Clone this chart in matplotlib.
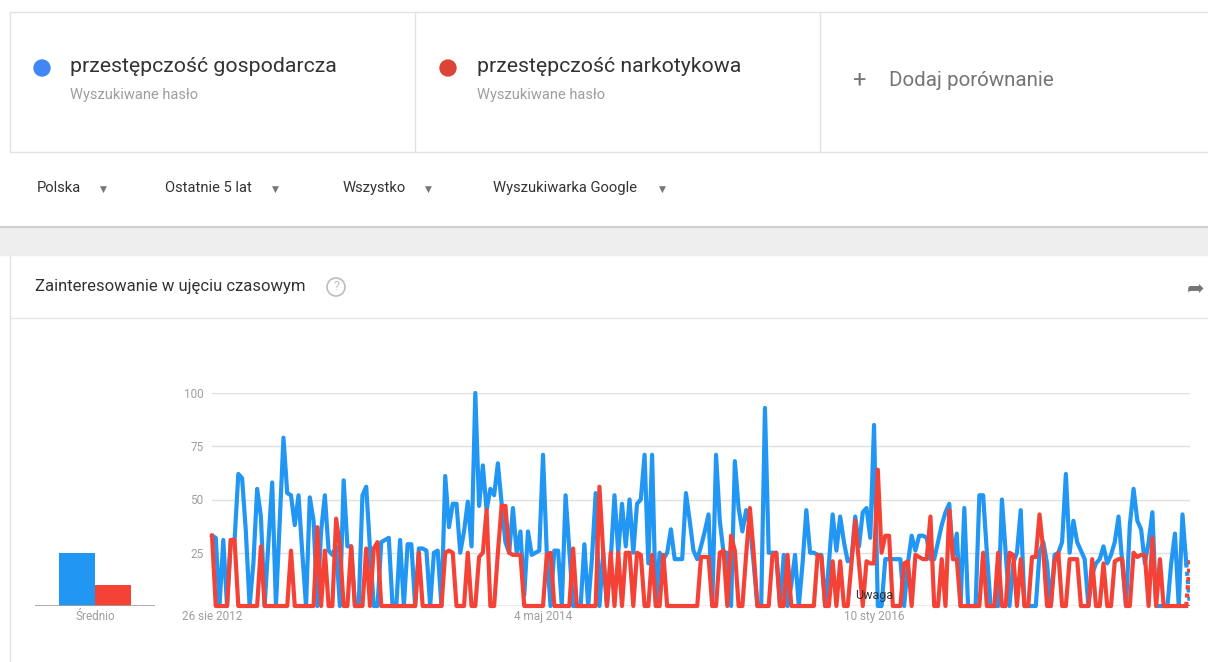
import matplotlib
matplotlib.use("Agg")
import matplotlib.pyplot as plt
import pandas as pd
from matplotlib.patches import Rectangle, Circle

# weekly interest, 26 sie 2012 .. 13 sie 2017 (261 weeks)
gospodarcza = [
    33, 32, 0, 31, 0, 31, 31, 62, 60, 35,
    0, 20, 55, 42, 0, 30, 58, 0, 40, 79,
    53, 52, 38, 52, 25, 0, 51, 40, 0, 35,
    52, 26, 24, 28, 0, 59, 28, 28, 0, 0,
    52, 56, 27, 0, 0, 30, 31, 32, 0, 0,
    31, 0, 29, 29, 0, 27, 27, 26, 0, 25,
    26, 0, 61, 37, 48, 48, 25, 35, 49, 28,
    100, 47, 66, 45, 55, 52, 67, 48, 30, 25,
    46, 25, 35, 5, 35, 24, 25, 26, 71, 25,
    0, 26, 26, 0, 52, 26, 0, 0, 0, 29,
    0, 22, 53, 0, 25, 0, 22, 52, 25, 48,
    28, 50, 25, 48, 50, 71, 20, 71, 0, 25,
    22, 25, 36, 22, 22, 22, 53, 40, 26, 22,
    28, 35, 43, 0, 71, 40, 25, 25, 0, 68,
    46, 35, 45, 38, 20, 0, 0, 93, 25, 25,
    25, 0, 24, 0, 10, 24, 0, 20, 45, 25,
    25, 24, 24, 0, 20, 43, 26, 42, 30, 21,
    22, 42, 28, 44, 46, 32, 85, 0, 0, 22,
    22, 22, 22, 22, 0, 20, 33, 26, 33, 33,
    32, 22, 22, 30, 38, 44, 48, 22, 34, 0,
    46, 0, 0, 0, 52, 52, 25, 0, 0, 0,
    50, 25, 0, 20, 25, 45, 0, 0, 0, 0,
    25, 30, 20, 0, 24, 25, 30, 62, 25, 40,
    30, 26, 22, 0, 15, 20, 22, 28, 20, 24,
    30, 42, 20, 0, 38, 55, 40, 36, 20, 30,
    44, 0, 0, 0, 0, 20, 34, 0, 43, 20, 0,
]
narkotykowa = [
    33, 0, 0, 0, 0, 31, 31, 0, 0, 0,
    0, 0, 0, 28, 0, 0, 0, 0, 0, 0,
    0, 26, 0, 0, 0, 0, 0, 0, 37, 0,
    26, 0, 0, 41, 28, 0, 0, 28, 0, 0,
    0, 27, 0, 27, 30, 0, 0, 0, 0, 0,
    0, 0, 0, 0, 0, 25, 0, 0, 0, 0,
    0, 0, 25, 26, 25, 0, 0, 0, 25, 0,
    0, 23, 25, 45, 0, 0, 25, 47, 47, 25,
    24, 24, 24, 0, 0, 0, 0, 0, 0, 24,
    25, 0, 0, 0, 0, 0, 27, 0, 0, 0,
    0, 0, 0, 56, 25, 0, 25, 0, 25, 0,
    25, 25, 0, 25, 24, 0, 0, 24, 0, 0,
    24, 0, 0, 0, 0, 0, 0, 0, 0, 0,
    23, 23, 23, 0, 0, 25, 26, 0, 33, 26,
    0, 0, 24, 46, 25, 0, 0, 0, 0, 24,
    25, 0, 0, 24, 0, 0, 0, 0, 0, 0,
    0, 24, 23, 0, 0, 21, 0, 21, 0, 0,
    20, 40, 20, 0, 21, 20, 20, 64, 25, 33,
    33, 0, 0, 0, 20, 21, 0, 24, 23, 22,
    22, 42, 0, 0, 22, 0, 45, 22, 22, 0,
    0, 0, 0, 0, 0, 25, 0, 0, 0, 25,
    0, 0, 25, 24, 0, 22, 0, 0, 23, 23,
    43, 26, 0, 0, 21, 25, 0, 0, 22, 22,
    22, 0, 0, 0, 22, 0, 0, 20, 0, 0,
    21, 22, 22, 0, 0, 25, 23, 24, 24, 0,
    32, 0, 22, 0, 0, 0, 0, 0, 0, 0, 22,
]
srednio = [25, 10]
terms = ["przestępczość gospodarcza", "przestępczość narkotykowa"]
filters = ["Polska", "Ostatnie 5 lat", "Wszystko", "Wyszukiwarka Google"]
tick_dates = ["2012-08-26", "2014-05-04", "2016-01-10"]
tick_labels = ["26 sie 2012", "4 maj 2014", "10 sty 2016"]
y_ticks = [25, 50, 75, 100]

BLUE = "#2196f3"
RED = "#f44336"
W, H = 1208, 662
FONT = ["Roboto", "DejaVu Sans"]

plt.rcParams["font.family"] = FONT


def box(x0, y0, x1, y1):
    # pixel box (top-left origin) -> figure fraction rect
    return [x0 / W, 1 - y1 / H, (x1 - x0) / W, (y1 - y0) / H]


fig = plt.figure(figsize=(W / 100, H / 100), dpi=100)

# page background in pixel coordinates
bg = fig.add_axes([0, 0, 1, 1])
bg.set_xlim(0, W)
bg.set_ylim(H, 0)
bg.axis("off")
bg.add_patch(Rectangle((0, 0), W, H, color="white", zorder=0))
bg.add_patch(Rectangle((0, 228), W, 27, color="#eeeeee", zorder=0))
bg.plot([0, W], [227, 227], color="#cfcfcf", lw=1.5)
bg.plot([10, W], [12, 12], color="#e2e2e2", lw=1)
bg.plot([10, W], [152, 152], color="#e2e2e2", lw=1)
bg.plot([10, 10], [12, 152], color="#e2e2e2", lw=1)
for xd in [415, 820]:
    bg.plot([xd, xd], [12, 152], color="#e2e2e2", lw=1)
bg.plot([10, 10], [255, H], color="#e2e2e2", lw=1)
bg.plot([10, W], [318, 318], color="#e6e6e6", lw=1)

# search terms
for (cx, tx), term, col in zip([(42, 70), (448, 477)], terms, ["#4285f4", "#db4437"]):
    bg.add_patch(Circle((cx, 68), 8, color=col))
    bg.text(tx, 67, term, fontsize=15.3, color="#333333", va="center")
    bg.text(tx, 95, "Wyszukiwane hasło", fontsize=10.5, color="#9e9e9e", va="center")
bg.text(852, 80, "+", fontsize=17, color="#757575", va="center")
bg.text(889, 80, "Dodaj porównanie", fontsize=14.8, color="#757575", va="center")

# filter row
for fx, ax_, lab in zip([37, 165, 343, 493], [103, 275, 428, 662], filters):
    bg.text(fx, 188, lab, fontsize=10.6, color="#333333", va="center")
    bg.text(ax_, 189, "\u25bc", fontsize=6.5, color="#757575", ha="center",
            va="center", family=["DejaVu Sans"])

# chart card header
bg.text(35, 287, "Zainteresowanie w ujęciu czasowym", fontsize=12,
        color="#333333", va="center")
bg.add_patch(Circle((336, 287), 9, fill=False, ec="#bdbdbd", lw=1.2))
bg.text(336, 287, "?", fontsize=9, color="#bdbdbd", ha="center", va="center")
bg.text(1196, 289, "\u27a6", fontsize=15, color="#757575", ha="center",
        va="center", family=["DejaVu Sans"])

# average bars
ax_avg = fig.add_axes(box(35, 500, 155, 606))
ax_avg.bar([0, 1], srednio, width=1.0, color=[BLUE, RED])
ax_avg.set_xlim(-1.17, 2.17)
ax_avg.set_ylim(0, 50)
ax_avg.axis("off")
ax_avg.axhline(0, color="#9e9e9e", lw=1.2)
bg.text(95, 617, "Średnio", fontsize=8.5, color="#9e9e9e", ha="center", va="center")

# time series
weeks = pd.date_range("2012-08-26", periods=len(gospodarcza), freq="7D")
ax = fig.add_axes(box(212, 393, 1190, 606))
ax.plot(weeks[:-1], gospodarcza[:-1], color=BLUE, lw=3, zorder=3, clip_on=False)
ax.plot(weeks[-2:], gospodarcza[-2:], color=BLUE, lw=3, ls=(0, (1, 1)), zorder=3)
ax.plot(weeks[:-1], narkotykowa[:-1], color=RED, lw=3, zorder=4, clip_on=False)
ax.plot(weeks[-2:], narkotykowa[-2:], color=RED, lw=3, ls=(0, (1, 1)), zorder=4)
ax.set_xlim(weeks[0], weeks[-1])
ax.set_ylim(0, 100)
ax.set_yticks(y_ticks)
ax.set_yticklabels([str(v) for v in y_ticks])
ax.set_xticks(pd.to_datetime(tick_dates))
ax.set_xticklabels(tick_labels)
ax.tick_params(length=0, labelsize=8.5, labelcolor="#9e9e9e", pad=6)
ax.tick_params(axis="x", pad=3)
ax.grid(axis="y", color="#e0e0e0", lw=1)
ax.set_axisbelow(True)
for s in ax.spines.values():
    s.set_visible(False)
ax.axhline(0, color="#9e9e9e", lw=1, zorder=2)
ax.text(pd.Timestamp("2016-01-10"), 5, "Uwaga", fontsize=9, color="#333333",
        ha="center", va="center", zorder=5)

fig.savefig("out.png", dpi=100)
